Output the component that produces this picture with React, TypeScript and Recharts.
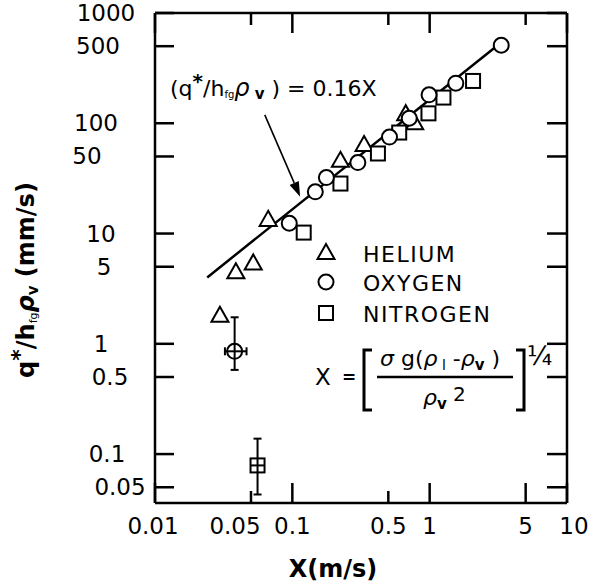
import React from 'react';
import { ScatterChart, Scatter, XAxis, YAxis, ErrorBar, ReferenceLine } from 'recharts';

// values
const heliumX = [0.0297, 0.0388, 0.0519, 0.0667, 0.224, 0.333, 0.669, 0.778];
const heliumY = [1.8, 4.45, 5.36, 13.3, 45.6, 63.4, 121, 100];

const oxygenX = [0.095, 0.147, 0.177, 0.3, 0.51, 0.71, 0.99, 1.55, 3.32];
const oxygenY = [12.4, 23.9, 32.2, 44, 75, 111, 181, 231, 510];

const nitrogenX = [0.121, 0.224, 0.42, 0.6, 0.98, 1.26, 2.07];
const nitrogenY = [10.2, 28.4, 53.2, 82.4, 123, 171, 242];

// the two points with scatter bars
const oxygenBarX = [0.038];
const oxygenBarY = [0.855];
const oxygenBarYLow = [0.58];
const oxygenBarYHigh = [1.74];
const oxygenBarXLow = [0.0323];
const oxygenBarXHigh = [0.0464];

const nitrogenBarX = [0.0558];
const nitrogenBarY = [0.0789];
const nitrogenBarYLow = [0.043];
const nitrogenBarYHigh = [0.138];

// correlation line q*/(h_fg rho_v) = 0.16X
const fitX = [0.024, 2.97];
const fitY = [4.0, 485];

// arrow from the annotation to the line
const arrowX = [0.063, 0.114];
const arrowY = [119, 21.6];

const xTicks = [0.01, 0.05, 0.1, 0.5, 1, 5, 10];
const yTicks = [0.05, 0.1, 0.5, 1, 5, 10, 50, 100, 500, 1000];

const legendNames = ['HELIUM', 'OXYGEN', 'NITROGEN'];

const pts = (xs: number[], ys: number[]) => xs.map((x, i) => ({ x, y: ys[i] }));

const helium = pts(heliumX, heliumY);
const oxygen = pts(oxygenX, oxygenY);
const nitrogen = pts(nitrogenX, nitrogenY);
const fitLine = pts(fitX, fitY);
const oxygenBar = oxygenBarX.map((x, i) => ({
  x,
  y: oxygenBarY[i],
  yErr: [oxygenBarY[i] - oxygenBarYLow[i], oxygenBarYHigh[i] - oxygenBarY[i]],
  xErr: [x - oxygenBarXLow[i], oxygenBarXHigh[i] - x],
}));
const nitrogenBar = nitrogenBarX.map((x, i) => ({
  x,
  y: nitrogenBarY[i],
  yErr: [nitrogenBarY[i] - nitrogenBarYLow[i], nitrogenBarYHigh[i] - nitrogenBarY[i]],
}));

const FONT = '"DejaVu Sans", "Liberation Sans", sans-serif';
const INK = '#000';

const isDecade = (v: number) => Math.abs(Math.log10(v) - Math.round(Math.log10(v))) < 1e-6;

// label nudges to follow the hand lettering
const xLabelDx: Record<string, number> = { '0.01': -2, '0.05': -16, '10': 7 };
const yLabelDx: Record<string, number> = { '1000': 5, '500': -3, '100': -5, '50': -14, '5': 3, '0.5': 9, '0.1': 6, '0.05': 19 };

const Triangle = ({ cx, cy }: any) => (
  <polygon
    points={`${cx},${cy - 9} ${cx - 8.5},${cy + 6} ${cx + 8.5},${cy + 6}`}
    fill="#fff" stroke={INK} strokeWidth={2} />
);
const Circle = ({ cx, cy }: any) => <circle cx={cx} cy={cy} r={7.5} fill="#fff" stroke={INK} strokeWidth={2} />;
const Square = ({ cx, cy }: any) => (
  <rect x={cx - 7} y={cy - 7} width={14} height={14} fill="#fff" stroke={INK} strokeWidth={2} />
);
const CircleCross = ({ cx, cy }: any) => <circle cx={cx} cy={cy} r={7.5} fill="none" stroke={INK} strokeWidth={2} />;
const SquareCross = ({ cx, cy }: any) => (
  <g>
    <rect x={cx - 7} y={cy - 7} width={14} height={14} fill="none" stroke={INK} strokeWidth={2} />
    <line x1={cx - 7} y1={cy} x2={cx + 7} y2={cy} stroke={INK} strokeWidth={2} />
  </g>
);
const NoDot = () => <g />;

const BottomTick = ({ x, y, payload }: any) => {
  const v = payload.value;
  const len = isDecade(v) || v === 5 ? 20 : 12;
  return (
    <g>
      <line x1={x} y1={y} x2={x} y2={y - len} stroke={INK} strokeWidth={2.5} />
      <text x={x + (xLabelDx[String(v)] ?? 0)} y={y + 31} textAnchor="middle" fontSize={23} fill={INK}
        style={{ fontFamily: FONT }}>{String(v)}</text>
    </g>
  );
};
const TopTick = ({ x, y, payload }: any) => {
  const len = isDecade(payload.value) ? 20 : 12;
  return <line x1={x} y1={y} x2={x} y2={y + len} stroke={INK} strokeWidth={2.5} />;
};
const LeftTick = ({ x, y, payload }: any) => {
  const v = payload.value;
  return (
    <g>
      <line x1={x} y1={y} x2={x + 19} y2={y} stroke={INK} strokeWidth={2.5} />
      <text x={x - 54 + (yLabelDx[String(v)] ?? 0)} y={y + 8} textAnchor="middle" fontSize={23} fill={INK}
        style={{ fontFamily: FONT }}>{String(v)}</text>
    </g>
  );
};
const RightTick = ({ x, y }: any) => <line x1={x} y1={y} x2={x - 20} y2={y} stroke={INK} strokeWidth={2.5} />;

const Arrow = ({ x1, y1, x2, y2 }: any) => {
  const a = Math.atan2(y2 - y1, x2 - x1);
  const L = 15;
  const W = 5;
  const bx = x2 - L * Math.cos(a);
  const by = y2 - L * Math.sin(a);
  const head = `${x2},${y2} ${bx + W * Math.sin(a)},${by - W * Math.cos(a)} ${bx - W * Math.sin(a)},${by + W * Math.cos(a)}`;
  return (
    <g>
      <line x1={x1} y1={y1} x2={bx} y2={by} stroke={INK} strokeWidth={1.6} />
      <polygon points={head} fill={INK} />
    </g>
  );
};

const legendShapes = [Triangle, Circle, Square];

const App = () => {
  const axisCommon = {
    type: 'number' as const,
    scale: 'log' as const,
    allowDataOverflow: true,
    tickLine: false,
    tickSize: 0,
    tickMargin: 0,
    axisLine: { stroke: INK, strokeWidth: 2.5 },
    interval: 0 as const,
  };
  // pinned to the page corner so the chart works in page coordinates without scrolling
  return (
    <div style={{ position: 'fixed', left: 0, top: 0, width: 593, height: 582, fontFamily: FONT, background: '#fff' }}>
      <ScatterChart width={593} height={582} margin={{ top: 12, right: 25, bottom: 78, left: 154 }}>
        <XAxis {...axisCommon} dataKey="x" domain={[0.01, 10]} ticks={xTicks} height={1} tick={<BottomTick />} />
        <XAxis {...axisCommon} xAxisId="top" orientation="top" dataKey="x" domain={[0.01, 10]} ticks={xTicks}
          height={1} tick={<TopTick />} />
        <YAxis {...axisCommon} dataKey="y" domain={[0.036, 1000]} ticks={yTicks} width={1} tick={<LeftTick />} />
        <YAxis {...axisCommon} yAxisId="right" orientation="right" dataKey="y" domain={[0.036, 1000]} ticks={yTicks}
          width={1} tick={<RightTick />} />
        <Scatter data={fitLine} xAxisId="top" yAxisId="right" line={{ stroke: INK, strokeWidth: 2.5 }} shape={NoDot}
          isAnimationActive={false} />
        <Scatter data={helium} shape={Triangle} isAnimationActive={false} />
        <Scatter data={nitrogen} shape={Square} isAnimationActive={false} />
        <Scatter data={oxygen} shape={Circle} isAnimationActive={false} />
        <Scatter data={oxygenBar} shape={CircleCross} isAnimationActive={false}>
          <ErrorBar dataKey="yErr" direction="y" width={4} stroke={INK} strokeWidth={2} />
          <ErrorBar dataKey="xErr" direction="x" width={4} stroke={INK} strokeWidth={2} />
        </Scatter>
        <Scatter data={nitrogenBar} shape={SquareCross} isAnimationActive={false}>
          <ErrorBar dataKey="yErr" direction="y" width={4} stroke={INK} strokeWidth={2} />
        </Scatter>
        <ReferenceLine segment={pts(arrowX, arrowY)} shape={Arrow} ifOverflow="visible" />
      </ScatterChart>

      <svg width={593} height={582} style={{ position: 'absolute', left: 0, top: 0, pointerEvents: 'none' }}>
        {/* axis titles */}
        <text x={34} y={280} transform="rotate(-90 34 280)" textAnchor="middle" fontSize={24} fontWeight="bold" fill={INK}>
          q<tspan dy={-7} fontSize={22}>*</tspan>
          <tspan dy={7}>/h</tspan>
          <tspan dy={3} fontSize={11} fontWeight="normal">fg</tspan>
          <tspan dy={-3} fontStyle="italic">ρ</tspan>
          <tspan dy={4} fontSize={15}>v</tspan>
          <tspan dy={-4}> (mm/s)</tspan>
        </text>
        <text x={333} y={577} textAnchor="middle" fontSize={24} fontWeight="bold" fill={INK}>X(m/s)</text>

        {/* correlation label */}
        <text x={170} y={96} fontSize={22} fill={INK}>
          (q<tspan dy={-8} fontSize={20} fontWeight="bold">*</tspan>
          <tspan dy={8}>/h</tspan>
          <tspan dy={2} fontSize={10}>fg</tspan>
          <tspan dy={-2} fontStyle="italic" fontSize={24}>ρ</tspan>
          <tspan dy={3} fontSize={15} fontWeight="bold"> v</tspan>
          <tspan dy={-3}> ) = 0.16X</tspan>
        </text>

        {/* legend */}
        {legendNames.map((name, i) => {
          const Shape = legendShapes[i];
          const cy = [253, 282, 313][i];
          return (
            <g key={name}>
              <Shape cx={326} cy={cy} />
              <text x={363} y={cy + 9} fontSize={22} fill={INK} letterSpacing={1.5}>{name}</text>
            </g>
          );
        })}

        {/* definition of X */}
        <text x={315} y={385} fontSize={23} fill={INK}>X</text>
        <text x={342} y={383} fontSize={17} fill={INK} fontWeight="bold">=</text>
        <polyline points="372,350 364,350 364,410 372,410" fill="none" stroke={INK} strokeWidth={3} />
        <text x={380} y={366} fontSize={22} fill={INK}>
          <tspan fontStyle="italic">σ</tspan> g(<tspan fontStyle="italic">ρ</tspan>
          <tspan dy={4} fontSize={14}> l</tspan>
          <tspan dy={-4}> -</tspan><tspan fontStyle="italic">ρ</tspan>
          <tspan dy={4} fontSize={15} fontWeight="bold">v</tspan>
          <tspan dy={-4}> )</tspan>
        </text>
        <line x1={377} y1={377} x2={513} y2={377} stroke={INK} strokeWidth={2.5} />
        <text x={423} y={405} fontSize={22} fill={INK}>
          <tspan fontStyle="italic">ρ</tspan>
          <tspan dy={4} fontSize={15} fontWeight="bold">v</tspan>
          <tspan dy={-8} fontSize={20}> 2</tspan>
        </text>
        <polyline points="516,350 524,350 524,410 516,410" fill="none" stroke={INK} strokeWidth={3} />
        <text x={527} y={365} fontSize={26} fill={INK}>¼</text>
      </svg>
    </div>
  );
};

export default App;
